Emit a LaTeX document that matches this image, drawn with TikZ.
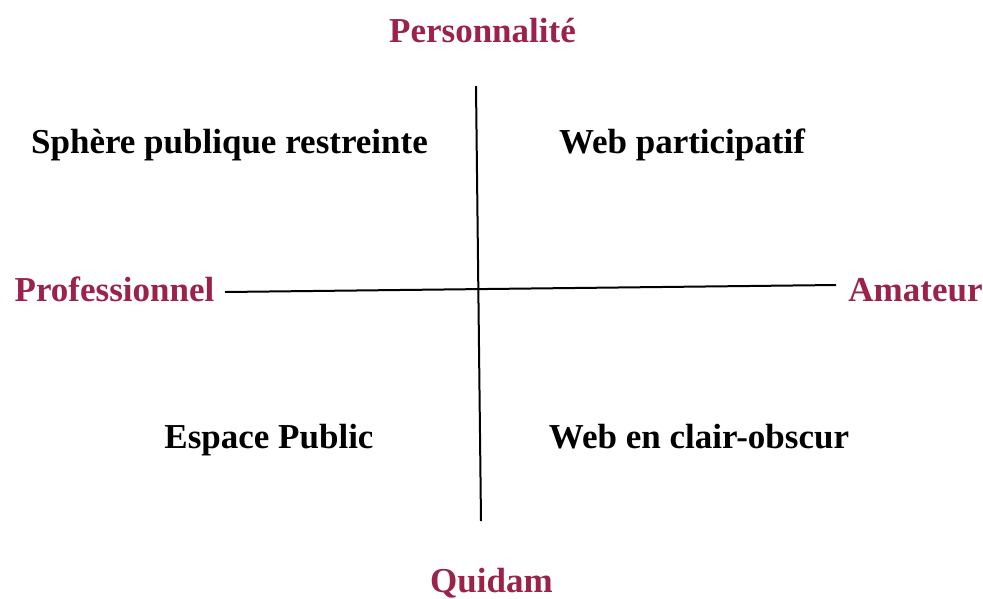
\documentclass[tikz,border=0pt]{standalone}
\usepackage{fontspec}
\setmainfont{Liberation Serif}
\definecolor{axiscol}{HTML}{9B2349}
\begin{document}
\begin{tikzpicture}[x=1pt,y=-1pt,
  lbl/.style={font=\fontsize{35}{40}\selectfont\bfseries,anchor=base,inner sep=0pt},
  axlbl/.style={lbl,text=axiscol},
  axis/.style={line width=2pt,black}]
\useasboundingbox (0,0) rectangle (983,598);
\node[axlbl] (pers) at (482.5,42) {Personnalité};
\node[axlbl] (quid) at (491.5,592) {Quidam};
\node[axlbl] (prof) at (114.5,301) {Professionnel};
\node[axlbl] (amat) at (915.5,301) {Amateur};
\node[lbl] (spr) at (229.5,153) {Sphère publique restreinte};
\node[lbl] (wp) at (682,153) {Web participatif};
\node[lbl] (ep) at (269,448) {Espace Public};
\node[lbl] (wco) at (699,448) {Web en clair-obscur};
\coordinate (top) at (476,86);
\coordinate (bot) at (481,521);
\coordinate (lft) at (225,292);
\coordinate (rgt) at (836,285);
\draw[axis] (top) -- (bot);
\draw[axis] (lft) -- (rgt);
\end{tikzpicture}
\end{document}
